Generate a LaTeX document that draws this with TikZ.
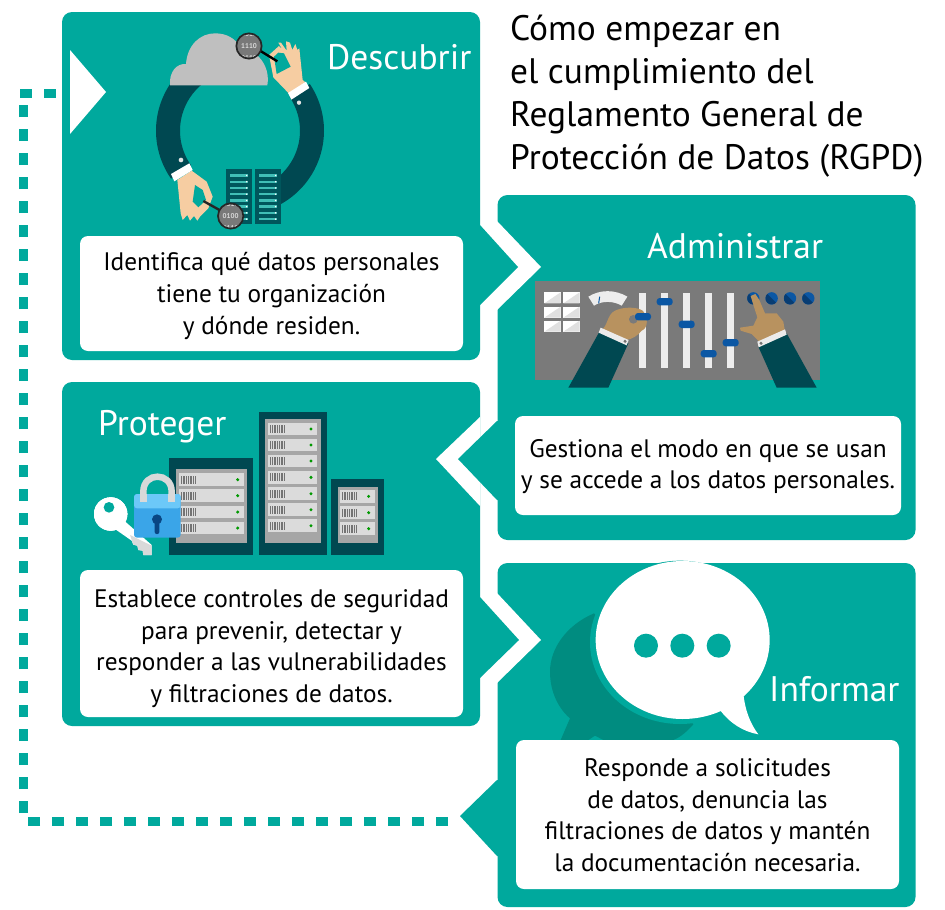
\documentclass[tikz,border=0pt]{standalone}
\usepackage{fontspec}
\setmainfont{PT Sans}
\definecolor{teal0}{HTML}{00A99D}
\definecolor{tealD}{HTML}{008C80}
\definecolor{navy0}{HTML}{004851}
\definecolor{skinA}{HTML}{F6CDA2}
\definecolor{skinB}{HTML}{B8925F}
\definecolor{blueK}{HTML}{0B57A4}
\definecolor{blueL}{HTML}{3AA5E8}
\definecolor{blueM}{HTML}{6CC8F8}
\tikzset{
  panel/.style={fill=teal0,rounded corners=10pt,inner sep=0pt,draw=none},
  whitebox/.style={fill=white,rounded corners=8pt,inner sep=0pt,align=center,text=black,font=\fontsize{25.3}{31.6}\selectfont},
  head/.style={text=white,inner sep=0pt,font=\fontsize{35.5}{40}\selectfont,anchor=base west},
  titletext/.style={inner sep=0pt,align=left,anchor=north west,text=black,font=\fontsize{35.4}{43}\selectfont},
  dots/.style={draw=teal0,line width=9pt,dash pattern=on 12pt off 12pt},
  zoomA/.style={shift={(60,0)},scale=0.33333},
  zoomB/.style={shift={(500,260)},scale=0.33333},
  zoomC/.style={shift={(80,400)},scale=0.33333},
  zoomD/.style={shift={(530,555)},scale=0.33333},
}
\newcommand{\glass}[5]{% cx cy text1 text2 text3
  \begin{scope}
    \clip (#1,#2) circle (38);
    \fill[gray!95!black] (#1,#2) circle (38);
    \node[text=white!85!black,font=\fontsize{7}{7}\selectfont\bfseries,inner sep=0pt] at (#1,#2-36) {#3};
    \node[text=white!85!black,font=\fontsize{7}{7}\selectfont\bfseries,inner sep=0pt] at (#1,#2) {#4};
    \node[text=white!85!black,font=\fontsize{7}{7}\selectfont\bfseries,inner sep=0pt] at (#1,#2+36) {#5};
  \end{scope}
  \draw[black!85,line width=1.7pt] (#1,#2) circle (38);
}
\newcommand{\unit}[5]{% x0 x1 y0 y1 dotx
  \fill[black!14] (#1,#3) rectangle (#2,#4);
  \foreach \k in {0,1,...,6} \fill[black!55] ({#1+6+\k*7},{#3+7}) rectangle ({#1+10+\k*7},{#4-7});
  \fill[green!60!black] (#5,{(#3+#4)/2}) circle (5);
}
\begin{document}
\begin{tikzpicture}[x=1pt,y=-1pt]
\useasboundingbox (0,0) rectangle (945,910);
\fill[white] (0,0) rectangle (945,910);

% panels
\node[panel,minimum width=418pt,minimum height=348pt] (panelA) at (271,186) {};
\node[panel,minimum width=418pt,minimum height=345pt] (panelB) at (706.5,367.5) {};
\node[panel,minimum width=418pt,minimum height=344pt] (panelC) at (271,554) {};
\node[panel,minimum width=418pt,minimum height=344pt] (panelD) at (706.5,735) {};

% chevrons
\fill[white] (497,221) -- (541,267) -- (497,310) -- cycle;
\fill[teal0] (478,225) -- (480,225) -- (518,267) -- (480,305) -- (478,305) -- cycle;
\fill[white] (480,417) -- (436,459) -- (480,506) -- cycle;
\fill[teal0] (499,421) -- (497,421) -- (458,459) -- (497,500) -- (499,500) -- cycle;
\fill[white] (497,593) -- (541,640) -- (497,683) -- cycle;
\fill[teal0] (478,597) -- (480,597) -- (519,640) -- (480,678) -- (478,678) -- cycle;
\fill[teal0] (499,780) -- (497,780) -- (460,816) -- (497,856) -- (499,856) -- cycle;

% start triangle and dotted return line
\fill[white] (70,50) -- (106,92) -- (70,134) -- cycle;
\coordinate (retA) at (448,821.5);
\coordinate (retB) at (28,821.5);
\coordinate (retC) at (23.5,813);
\coordinate (retD) at (23.5,105);
\coordinate (retE) at (20,93.5);
\coordinate (retF) at (56,93.5);
\draw[dots] (retA) -- (retB);
\draw[dots] (retC) -- (retD);
\draw[dots] (retE) -- (retF);

% ---------- Descubrir illustration
\begin{scope}[shift={(240,130.7)}]
  \draw[navy0,line width=24pt] plot[domain=130:215,samples=40] ({72*cos(\x)},{-72*sin(\x)});
  \draw[navy0,line width=24pt] plot[domain=34:-62,samples=40] ({72*cos(\x)},{-72*sin(\x)});
\end{scope}
\begin{scope}[zoomA]
  % cloud
  \fill[black!25] (330,256) .. controls (327,215) and (350,190) .. (378,192) .. controls (382,135) and (420,100) .. (465,100) .. controls (500,100) and (525,115) .. (540,140) .. controls (590,150) and (632,195) .. (622,256) -- cycle;
  % servers
  \foreach \a in {498,585} {
    \fill[navy0!85!teal0] (\a,508) rectangle ({\a+77},672);
    \foreach \r in {0,...,7} {
      \fill[teal0!75!white] ({\a+12},{523+\r*18.7}) rectangle ({\a+66},{530+\r*18.7});
      \fill[white] ({\a+62},{526.5+\r*18.7}) circle (2.5);
    }
  }
  % top hand
  \fill[skinA] (688,282) -- (640,232) -- (627,165) -- (657,138) -- (668,150) -- (655,128) -- (663,128) -- (680,152) -- (678,124) -- (690,128) -- (697,150) -- (706,132) -- (712,150) -- (718,145) -- (728,240) -- (740,250) -- cycle;
  \fill[teal0] (672,160) -- (692,200) -- (650,222) -- (642,170) -- (655,158) -- cycle;
  \draw[black,line width=2.4pt] (600,152) -- (652,184);
  \fill[white] (684,279) -- (738,245) -- (748,264) -- (694,299) -- cycle;
  \fill[white!90!black] (717,308) circle (6.5);
  \glass{567}{138}{0010}{1110}{0110}
  % bottom hand
  \fill[skinA] (352,540) -- (395,512) -- (440,545) -- (458,590) -- (445,625) -- (420,650) -- (412,662) -- (402,648) -- (390,662) -- (382,645) -- (368,660) -- (362,640) -- cycle;
  \fill[teal0] (405,555) -- (428,570) -- (438,600) -- (415,622) -- (398,605) -- cycle;
  \draw[black!85,line width=2.4pt] (430,603) -- (482,632);
  \fill[white] (333,522) -- (388,490) -- (398,510) -- (343,544) -- cycle;
  \fill[white!90!black] (363,480) circle (7);
  \glass{512}{648}{0010}{0100}{0110}
\end{scope}

% ---------- Administrar illustration
\begin{scope}[zoomB]
  \fill[black!52] (106,62) rectangle (960,360);
  \foreach \tx in {133,190} \foreach \ty in {97,140,182} {
    \fill[white] (\tx,\ty) rectangle ({\tx+49},{\ty+33});
    \fill[black!12] ({\tx+49},\ty) -- ({\tx+49},{\ty+33}) -- (\tx,{\ty+33}) -- cycle;
  }
  \fill[white!93!black] (265,110) .. controls (300,88) and (345,88) .. (382,110) -- (365,137) .. controls (340,122) and (305,122) .. (282,137) -- cycle;
  \draw[blueK,line width=1pt] (299,110) -- (296,130);
  \foreach \bx in {418,484,550,616,681} \fill[white!93!black] (\bx,100) rectangle ({\bx+21},323);
  % left hand
  \fill[skinB] (298,212) .. controls (325,205) and (318,165) .. (345,152) .. controls (370,140) and (410,140) .. (428,152) .. controls (445,170) and (445,205) .. (425,212) .. controls (415,225) and (395,240) .. (375,240) -- cycle;
  \fill[black!52] (400,178) circle (13);
  \fill[navy0] (300,212) -- (385,250) -- (325,383) -- (205,383) -- cycle;
  \fill[white!92!black] (302,203) -- (386,240) -- (380,256) -- (296,218) -- cycle;
  \fill[black!55] (375,244) circle (5);
  % knobs
  \foreach \kx/\ky in {429/170,494/125,560/193,626/281,692/248}
    \fill[blueK,rounded corners=3pt] ({\kx-24},{\ky-11}) rectangle ({\kx+24},{\ky+11});
  % round buttons
  \foreach \cx in {760,815,870,925} {
    \fill[blueK] (\cx,115) circle (18.5);
    \begin{scope}
      \clip (\cx,115) circle (18.5);
      \fill[blueK!70!black] ({\cx-18},97) -- ({\cx+18},133) -- ({\cx-18},133) -- cycle;
    \end{scope}
  }
  % right hand
  \fill[skinB] (778,245) -- (755,222) -- (722,212) -- (720,203) -- (760,197) -- (772,172) -- (758,128) -- (752,108) -- (766,102) -- (778,120) -- (795,160) -- (830,160) -- (850,185) -- (855,215) -- cycle;
  \fill[navy0] (860,220) -- (775,260) -- (830,383) -- (950,383) -- cycle;
  \fill[white!92!black] (855,208) -- (772,245) -- (776,262) -- (860,224) -- cycle;
  \fill[black!55] (783,250) circle (5);
\end{scope}

% ---------- Proteger illustration
\begin{scope}[zoomC]
  \fill[navy0] (268,174) rectangle (519,464);
  \fill[black!35] (288,208) rectangle (500,430);
  \foreach \y in {220,268,317,365} \unit{297}{492}{\y}{\y+38}{473}
  \fill[navy0] (536,36) rectangle (741,464);
  \fill[black!35] (555,58) rectangle (722,430);
  \foreach \y in {68,116,164,213,262,310,358} \unit{563}{712}{\y}{\y+38}{693}
  \fill[navy0] (753,238) rectangle (913,464);
  \fill[black!35] (773,260) rectangle (893,430);
  \foreach \y in {270,319,367} \unit{780}{885}{\y}{\y+38}{866}
  % key
  \fill[white] (92,342) circle (50);
  \fill[white] (128,358) -- (215,435) -- (215,465) -- (190,465) -- (188,452) -- (175,450) -- (172,437) -- (160,434) -- (155,422) -- (102,385) -- cycle;
  \fill[black!15] (150,405) -- (215,437) -- (215,465) -- (190,465) -- (188,452) -- (175,450) -- (172,437) -- (160,434) -- cycle;
  \fill[teal0] (87,322) circle (16);
  % lock
  \draw[black!15,line width=6.5pt] (190,305) -- (190,275) .. controls (190,215) and (275,215) .. (275,275) -- (275,305);
  \fill[blueL,rounded corners=3pt] (162,282) rectangle (302,413);
  \fill[blueM,rounded corners=3pt] (162,282) rectangle (302,325);
  \draw[black!15,line width=6.5pt] (190,282) -- (190,305);
  \draw[black!15,line width=6.5pt] (275,282) -- (275,305);
  \fill[blueK!80!black] (231,358) circle (15);
  \fill[blueK!80!black,rounded corners=2pt] (224,358) rectangle (238,402);
\end{scope}

% ---------- Informar illustration
\begin{scope}[zoomD]
  \fill[tealD] (192,175) .. controls (110,210) and (60,280) .. (60,350) .. controls (60,410) and (85,460) .. (120,490) -- (92,555) -- (175,555) -- (195,542) -- (220,555) -- (430,555) .. controls (455,545) and (475,525) .. (490,508) -- (300,300) -- cycle;
  \fill[teal0] (450,262) ellipse [x radius=270,y radius=245];
  \fill[white] (458,255) ellipse [x radius=261,y radius=237];
  \fill[white] (640,415) .. controls (645,465) and (660,505) .. (685,538) .. controls (640,530) and (600,505) .. (570,465) -- cycle;
  \foreach \dx in {348,457,566} \fill[teal0] (\dx,272) circle (36);
\end{scope}

% ---------- text boxes
\node[whitebox,minimum width=383pt,minimum height=115pt] (boxA) at (271.5,293.5) {\rule{0pt}{23pt}Identifica qué datos personales\\tiene tu organización\\y dónde residen.};
\node[whitebox,minimum width=386pt,minimum height=99pt] (boxB) at (708,465.5) {\rule{0pt}{20pt}Gestiona el modo en que se usan\\y se accede a los datos personales.};
\node[whitebox,minimum width=383pt,minimum height=147pt] (boxC) at (271.5,643.5) {\rule{0pt}{28pt}Establece controles de seguridad\\para prevenir, detectar y\\responder a las vulnerabilidades\\y filtraciones de datos.};
\node[whitebox,minimum width=383pt,minimum height=149pt] (boxD) at (707.5,814.5) {\rule{0pt}{19pt}Responde a solicitudes\\de datos, denuncia las\\filtraciones de datos y mantén\\la documentación necesaria.};

% ---------- headings and title
\node[head] (headA) at (327,69) {Descubrir};
\node[head] (headB) at (647,258) {Administrar};
\node[head] (headC) at (98,435) {Proteger};
\node[head] (headD) at (769,701) {Informar};
\node[titletext] (title) at (510,15) {Cómo empezar en\\el cumplimiento del\\Reglamento General de\\Protección de Datos (RGPD)};
\end{tikzpicture}
\end{document}
